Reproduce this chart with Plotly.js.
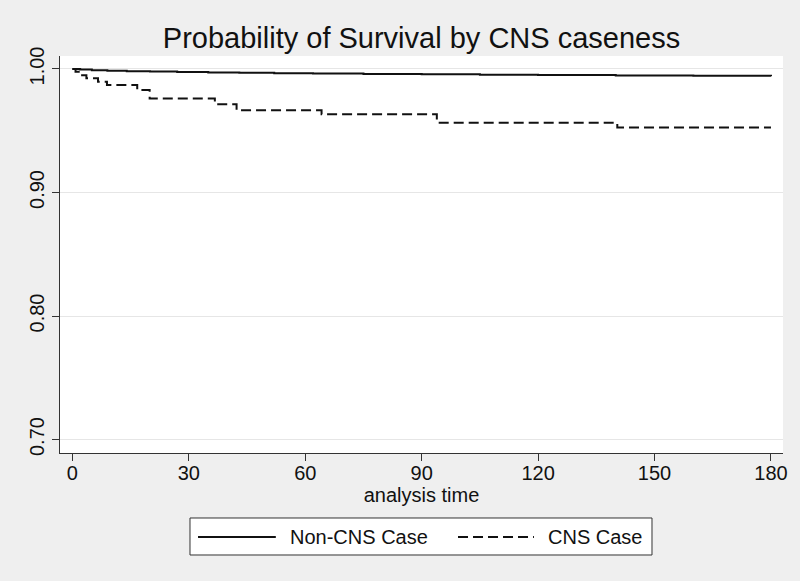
<!DOCTYPE html>
<html>
<head>
<meta charset="utf-8">
<script src="https://cdn.plot.ly/plotly-3.0.1.min.js"></script>
<style>
  html, body { margin: 0; padding: 0; background: #efefef; }
  #chart { width: 800px; height: 581px; }
</style>
</head>
<body>
<div id="chart"></div>
<script>
// Kaplan-Meier estimates (step functions)
const nonCnsTime = [0, 2, 5, 9, 14, 20, 27, 35, 43, 52, 62, 75, 90, 105, 120, 140, 160, 180];
const nonCnsSurv = [1.000, 0.9995, 0.9990, 0.9986, 0.9982, 0.9979, 0.9975, 0.9972, 0.9969,
                    0.9966, 0.9963, 0.9960, 0.9957, 0.9954, 0.9951, 0.9948, 0.9945, 0.9942];

const cnsTime = [0, 0.8, 2.5, 3.6, 6.6, 8.9, 16.7, 19.9, 36.7, 42.3, 64.2, 93.9, 140.4, 180];
const cnsSurv = [1.000, 0.9978, 0.9950, 0.9924, 0.9897, 0.9870, 0.9830, 0.9760, 0.9715,
                 0.9665, 0.9633, 0.9565, 0.9527, 0.9527];

const xTicks = [0, 30, 60, 90, 120, 150, 180];
const yTicks = [0.70, 0.80, 0.90, 1.00];
const seriesNames = ["Non-CNS Case", "CNS Case"];

const INK = "#111111";
const BG = "#efefef";
const FONT = "Liberation Sans, Arial, sans-serif";
const CNS_DASH = "10px,5px";

const traces = [
  {
    x: nonCnsTime, y: nonCnsSurv, name: seriesNames[0],
    type: "scatter", mode: "lines",
    line: { color: INK, width: 2, shape: "hv" },
    hoverinfo: "skip",
  },
  {
    x: cnsTime, y: cnsSurv, name: seriesNames[1],
    type: "scatter", mode: "lines",
    line: { color: INK, width: 2, shape: "hv", dash: CNS_DASH },
    hoverinfo: "skip",
  },
];

// legend drawn by hand so the line samples get Stata's long keys
const legendShapes = [
  {
    type: "rect", xref: "paper", yref: "paper",
    x0: 0.1798, x1: 0.8188, y0: -0.2569, y1: -0.1637,
    fillcolor: "#ffffff", line: { color: "#333333", width: 1 },
  },
  legendKey(0.1909, 0.2985, "solid"),
  legendKey(0.5505, 0.6555, CNS_DASH),
];
const legendLabels = [
  legendText(0.3150, seriesNames[0]),
  legendText(0.6725, seriesNames[1]),
];

function legendKey(x0, x1, dash) {
  return {
    type: "line", xref: "paper", yref: "paper",
    x0, x1, y0: -0.2116, y1: -0.2116,
    line: { color: INK, width: 2, dash },
  };
}
function legendText(x, text) {
  return {
    xref: "paper", yref: "paper", x, y: -0.2116,
    xanchor: "left", yanchor: "middle",
    text, showarrow: false,
    font: { family: FONT, size: 20, color: INK },
  };
}

const layout = {
  width: 800,
  height: 581,
  paper_bgcolor: BG,
  plot_bgcolor: "#ffffff",
  margin: { l: 60, r: 17, t: 56, b: 128 },
  font: { family: FONT, color: INK, size: 20 },
  showlegend: false,
  title: {
    text: "Probability of Survival by CNS caseness",
    font: { family: FONT, size: 29, color: INK },
    xref: "paper", x: 0.5, xanchor: "center",
    yref: "container", y: 0.934, yanchor: "middle",
  },
  xaxis: {
    range: [-3.2, 183.1],
    tickvals: xTicks,
    ticks: "outside", ticklen: 7, tickcolor: "#333333", tickwidth: 1,
    ticklabelstandoff: -5,
    showline: true, linecolor: "#333333", linewidth: 1,
    showgrid: false, zeroline: false,
    tickfont: { family: FONT, size: 20, color: INK },
    title: { text: "analysis time", font: { family: FONT, size: 20, color: INK }, standoff: 0 },
    automargin: false,
  },
  yaxis: {
    range: [0.6891, 1.0105],
    tickvals: yTicks,
    tickformat: ".2f",
    tickangle: -90,
    ticks: "outside", ticklen: 7, tickcolor: "#333333", tickwidth: 1,
    showline: true, linecolor: "#333333", linewidth: 1,
    showgrid: true, gridcolor: "#e6e6e6", gridwidth: 1,
    zeroline: false,
    tickfont: { family: FONT, size: 20, color: INK },
    automargin: false,
  },
  shapes: legendShapes,
  annotations: legendLabels,
};

Plotly.newPlot("chart", traces, layout, { displayModeBar: false, staticPlot: true });
</script>
</body>
</html>
